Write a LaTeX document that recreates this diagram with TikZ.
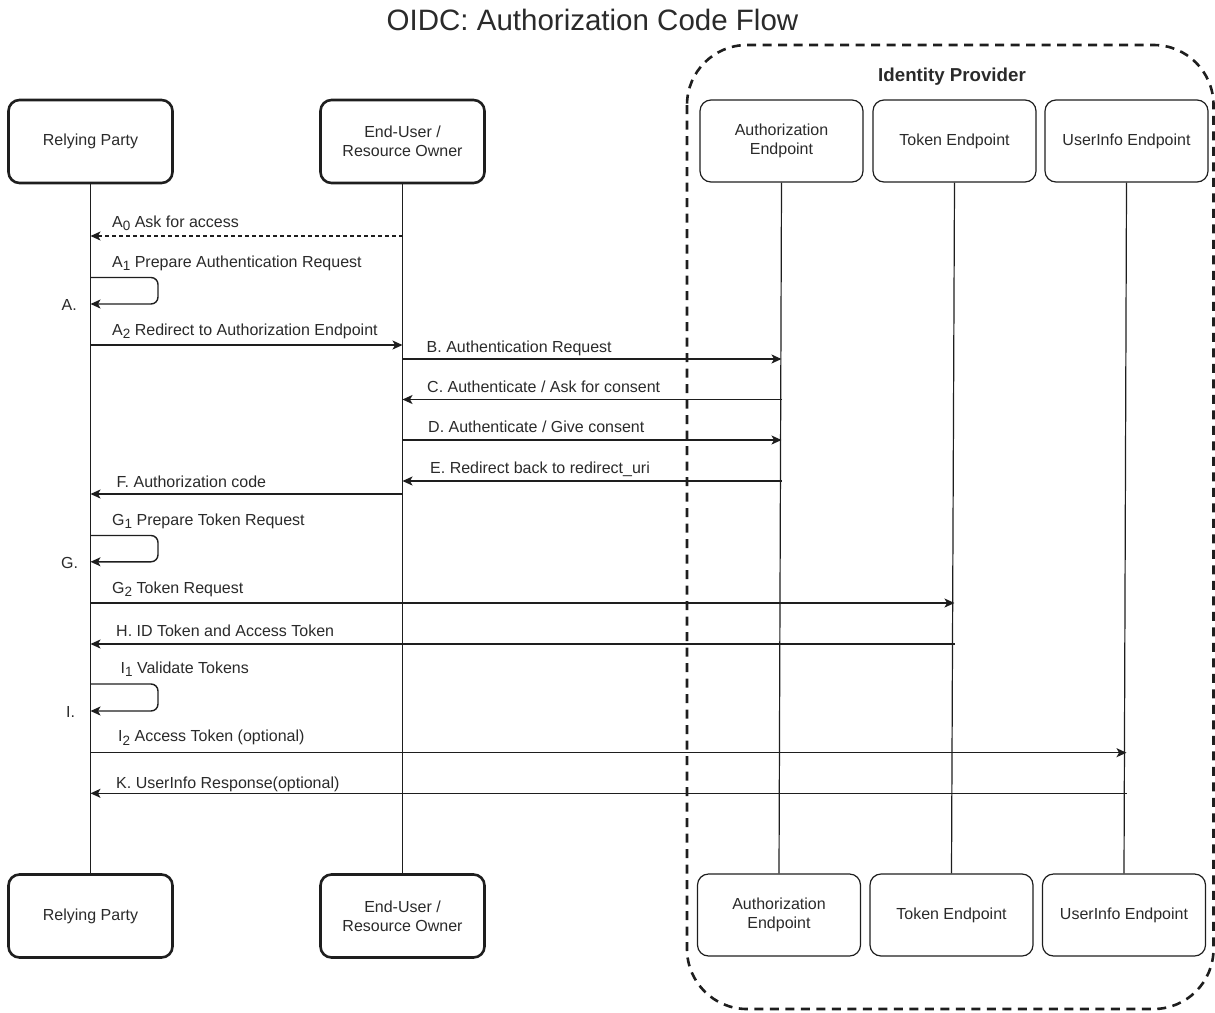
\documentclass[tikz,border=0pt]{standalone}
\usepackage{fontspec}
\setmainfont{Liberation Sans}
\usetikzlibrary{arrows.meta}
\definecolor{ink}{HTML}{1E1E1E}
\definecolor{txt}{HTML}{2A2A2A}
% step index written below the letter
\newcommand\subidx[1]{\raisebox{-3.5pt}{\fontsize{13.5}{13.5}\selectfont #1}}
\begin{document}
\begin{tikzpicture}[x=1pt,y=-1pt,
  every node/.style={text=txt},
  body/.style={font=\fontsize{16}{19}\selectfont},
  actor/.style={draw=ink,line width=2.6pt,rounded corners=11pt,minimum width=164pt,minimum height=83pt,inner sep=0pt,align=center,body},
  endpt/.style={draw=ink,line width=1.2pt,rounded corners=11pt,minimum width=163pt,minimum height=82pt,inner sep=0pt,align=center,body},
  life/.style={draw=ink,line width=1.2pt},
  msg/.style={draw=ink,line width=1.4pt,-{Stealth[length=10pt,width=9pt,inset=2.5pt]}},
  lbl/.style={anchor=base west,inner sep=0pt,body},
  steptag/.style={anchor=base west,inner sep=0pt,body}]
\useasboundingbox (0,0) rectangle (1215,1012);

% title
\node[anchor=base,inner sep=0pt,font=\fontsize{29.5}{34}\selectfont] (title) at (592.5,30.5) {OIDC: Authorization Code Flow};

% identity provider group
\draw[ink,line width=2.6pt,dash pattern=on 9pt off 6.5pt,rounded corners=60pt] (687,45) rectangle (1213.5,1009);
\node[anchor=base,inner sep=0pt,font=\fontsize{18.7}{22}\selectfont\bfseries] (idp) at (952,81.7) {Identity Provider};

% participants, top
\node[actor] (rpT) at (90.5,141.5) {Relying Party};
\node[actor] (euT) at (402.5,141.5) {End-User /\\Resource Owner};
\node[endpt] (aeT) at (781.5,141) {Authorization\\Endpoint};
\node[endpt] (teT) at (954.5,141) {Token Endpoint};
\node[endpt] (uiT) at (1126.5,141) {UserInfo Endpoint};

% participants, bottom
\node[actor] (rpB) at (90.5,916) {Relying Party};
\node[actor] (euB) at (402.5,916) {End-User /\\Resource Owner};
\node[endpt] (aeB) at (779,915) {Authorization\\Endpoint};
\node[endpt] (teB) at (951.5,915) {Token Endpoint};
\node[endpt] (uiB) at (1124,915) {UserInfo Endpoint};

% lifelines
\draw[life] (rpT.south) -- (rpB.north);
\draw[life] (euT.south) -- (euB.north);
\draw[life] (aeT.south) -- (aeB.north);
\draw[life] (teT.south) -- (teB.north);
\draw[life] (uiT.south) -- (uiB.north);

% A: ask, prepare, redirect
\draw[msg,dash pattern=on 4pt off 3pt] (euT |- 0,236) -- (rpT |- 0,236);
\node[lbl] (la0) at (112,227) {A\subidx{0} Ask for access};
\draw[msg,rounded corners=7pt] (rpT |- 0,277.5) -- ++(67.5,0) -- ++(0,26.5) -- (rpT |- 0,304);
\node[lbl] (la1) at (112,267) {A\subidx{1} Prepare Authentication Request};
\node[steptag] (ma) at (61.5,310) {A.};
\draw[msg] (rpT |- 0,345) -- (euT |- 0,345);
\node[lbl] (la2) at (112,335) {A\subidx{2} Redirect to Authorization Endpoint};

% B to E: user agent and authorization endpoint
\draw[msg] (euT |- 0,359) -- (aeT |- 0,359);
\node[lbl] (lb) at (426.5,352) {B. Authentication Request};
\draw[msg] (aeT |- 0,399.5) -- (euT |- 0,399.5);
\node[lbl] (lc) at (427,392.3) {C. Authenticate / Ask for consent};
\draw[msg] (euT |- 0,440) -- (aeT |- 0,440);
\node[lbl] (ld) at (428,432.5) {D. Authenticate / Give consent};
\draw[msg] (aeT |- 0,481) -- (euT |- 0,481);
\node[lbl] (le) at (430,473.5) {E. Redirect back to redirect\_uri};

% F: code back to relying party
\draw[msg] (euT |- 0,494) -- (rpT |- 0,494);
\node[lbl] (lf) at (116.5,487.3) {F. Authorization code};

% G: token request
\draw[msg,rounded corners=7pt] (rpT |- 0,535.5) -- ++(67.5,0) -- ++(0,26.3) -- (rpT |- 0,561.8);
\node[lbl] (lg1) at (112,525) {G\subidx{1} Prepare Token Request};
\node[steptag] (mg) at (61,568) {G.};
\draw[msg] (rpT |- 0,603) -- (teT |- 0,603);
\node[lbl] (lg2) at (112,593.3) {G\subidx{2} Token Request};

% H: tokens returned
\draw[msg] (teT |- 0,644) -- (rpT |- 0,644);
\node[lbl] (lh) at (116,636) {H. ID Token and Access Token};

% I: validate and call userinfo
\draw[msg,rounded corners=7pt] (rpT |- 0,684) -- ++(67.5,0) -- ++(0,27) -- (rpT |- 0,711);
\node[lbl] (li1) at (120.5,673.3) {I\subidx{1} Validate Tokens};
\node[steptag] (mi) at (66,717) {I.};
\draw[msg] (rpT |- 0,752.7) -- (uiT |- 0,752.7);
\node[lbl] (li2) at (118,741.7) {I\subidx{2} Access Token (optional)};

% K: userinfo response
\draw[msg] (uiT |- 0,793.3) -- (rpT |- 0,793.3);
\node[lbl] (lk) at (116,788.3) {K. UserInfo Response(optional)};
\end{tikzpicture}
\end{document}
